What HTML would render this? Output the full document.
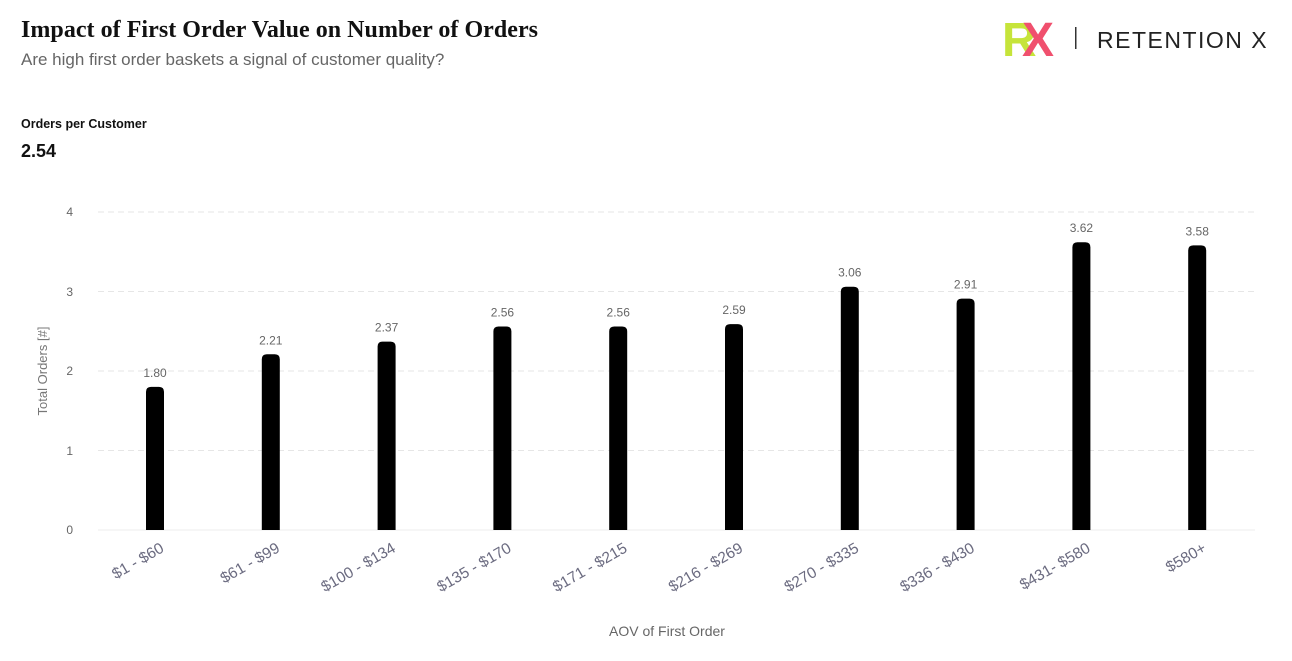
<!DOCTYPE html>
<html><head><meta charset="utf-8"><style>
body{margin:0;width:1292px;height:661px;background:#fff;overflow:hidden;font-family:"Liberation Sans",sans-serif;}
</style></head><body>
<svg width="1292" height="661" xmlns="http://www.w3.org/2000/svg" style="position:absolute;left:0;top:0">
<text x="21" y="37" font-family="Liberation Serif,serif" font-weight="bold" font-size="24" fill="#111" textLength="517">Impact of First Order Value on Number of Orders</text>
<text x="21" y="65" font-size="17" fill="#666">Are high first order baskets a signal of customer quality?</text>
<text x="21" y="128" font-size="12.5" font-weight="bold" fill="#111">Orders per Customer</text>
<text x="21" y="157" font-size="18" font-weight="bold" fill="#111">2.54</text>
<text x="1002" y="56" font-size="48" font-weight="bold" fill="#c6e43a">R</text>
<text x="1022" y="56" font-size="48" font-weight="bold" fill="#f0506e">X</text>
<rect x="1075" y="27" width="1.5" height="22" fill="#333"/>
<text x="1097" y="48" font-size="23" fill="#222" letter-spacing="1.5">RETENTION X</text>
<g stroke="#e6e6e6" stroke-dasharray="6,4" stroke-width="1">
<line x1="98" y1="212" x2="1255" y2="212"/><line x1="98" y1="291.5" x2="1255" y2="291.5"/>
<line x1="98" y1="371" x2="1255" y2="371"/><line x1="98" y1="450.5" x2="1255" y2="450.5"/>
</g>
<line x1="98" y1="530" x2="1255" y2="530" stroke="#eee"/>
<g font-size="12" fill="#666" text-anchor="end">
<text x="73" y="216">4</text><text x="73" y="296">3</text><text x="73" y="375">2</text><text x="73" y="455">1</text><text x="73" y="534">0</text>
</g>
<text transform="translate(47,371) rotate(-90)" text-anchor="middle" font-size="13" fill="#777">Total Orders [#]</text>
<text x="667" y="636" text-anchor="middle" font-size="14" fill="#666">AOV of First Order</text>
<g id="bars"></g>
</svg>
<script>
var v=[1.80,2.21,2.37,2.56,2.56,2.59,3.06,2.91,3.62,3.58];
var l=["$1 - $60","$61 - $99","$100 - $134","$135 - $170","$171 - $215","$216 - $269","$270 - $335","$336 - $430","$431- $580","$580+"];
var g=document.getElementById('bars'),s='';
for(var i=0;i<10;i++){var cx=155+i*115.8,y=530-v[i]*79.5;
s+='<path d="M'+(cx-9)+' 530 V'+(y+5)+' Q'+(cx-9)+' '+y+' '+(cx-4)+' '+y+' H'+(cx+4)+' Q'+(cx+9)+' '+y+' '+(cx+9)+' '+(y+5)+' V530 Z" fill="#000"/>';
s+='<text x="'+cx+'" y="'+(y-10)+'" text-anchor="middle" font-size="12" fill="#666">'+v[i].toFixed(2)+'</text>';
s+='<text transform="translate('+(cx+10)+',551) rotate(-30)" text-anchor="end" font-size="15.5" fill="#6b6b80">'+l[i]+'</text>';}
g.innerHTML=s;
</script>
</body></html>
